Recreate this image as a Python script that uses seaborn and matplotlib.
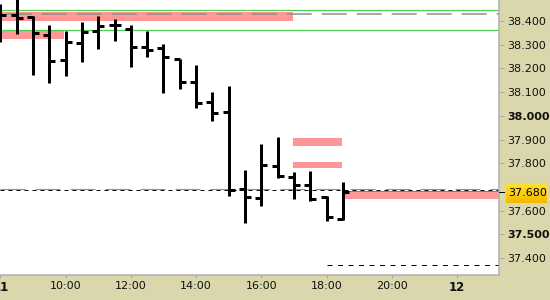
import numpy as np
import pandas as pd
import matplotlib
matplotlib.use("Agg")
import matplotlib.pyplot as plt
import matplotlib.transforms as mtransforms
from matplotlib.patches import Rectangle
import seaborn as sns

# ---------------- data ----------------
times = ["08:00", "08:30", "09:00", "09:30", "10:00", "10:30", "11:00", "11:30",
         "12:00", "12:30", "13:00", "13:30", "14:00", "14:30", "15:00", "15:30",
         "16:00", "16:30", "17:00", "17:30", "18:00", "18:30"]
opens = [38.430, 38.424, 38.416, 38.340, 38.237, 38.306, 38.358, 38.382, 38.365, 38.290, 38.286,
         38.238, 38.143, 38.059, 38.015, 37.690, 37.654, 37.789, 37.743, 37.707, 37.657, 37.563]
highs = [38.472, 38.520, 38.420, 38.383, 38.359, 38.395, 38.421, 38.408, 38.383, 38.358, 38.303,
         38.238, 38.214, 38.102, 38.126, 37.771, 37.881, 37.909, 37.763, 37.768, 37.662, 37.721]
lows = [38.313, 38.346, 38.173, 38.137, 38.169, 38.228, 38.281, 38.317, 38.207, 38.249, 38.095,
        38.112, 38.032, 37.978, 37.663, 37.546, 37.621, 37.736, 37.648, 37.641, 37.555, 37.562]
closes = [38.427, 38.411, 38.349, 38.231, 38.310, 38.352, 38.378, 38.382, 38.290, 38.279, 38.249,
          38.143, 38.055, 38.011, 37.687, 37.656, 37.792, 37.746, 37.706, 37.650, 37.572, 37.680]

# x axis tick labels
xtick_times = ["08:00", "10:00", "12:00", "14:00", "16:00", "18:00", "20:00", "22:00"]
xtick_labels = ["11", "10:00", "12:00", "14:00", "16:00", "18:00", "20:00", "12"]
xtick_bold = ["11", "12"]

# y axis tick labels
ytick_values = [37.4, 37.5, 37.6, 37.8, 37.9, 38.0, 38.1, 38.2, 38.3, 38.4]
ytick_bold = [37.5, 38.0]
last_price = 37.680

# horizontal levels
green_levels = [38.445, 38.361]
grey_dashed_level = 38.428
black_dashed_level = 37.686
blue_dashed_level = 37.690
low_dashed_level = 37.370
low_dashed_start = "18:00"
green_short_level = 37.683
green_short_start = "18:33"

# pink zones
zone_start = ["07:50", "07:50", "16:58", "16:58", "18:33"]
zone_end = ["16:58", "09:56", "18:28", "18:28", "23:59"]
zone_low = [38.401, 38.323, 37.874, 37.781, 37.648]
zone_high = [38.439, 38.358, 37.906, 37.806, 37.680]


def hrs(s):
    h, m = s.split(":")
    return int(h) + int(m) / 60.0


# ---------------- style ----------------
sns.set_style("white")
plt.rcParams["font.family"] = ["DejaVu Sans"]
plt.rcParams["lines.scale_dashes"] = False

PX = 0.72  # points per pixel at dpi 100
BAND = "#d9d7ab"
PINK = "#ff9797"
GREEN = "#4ccf4c"

fig = plt.figure(figsize=(5.5, 3.0), dpi=100, facecolor=BAND)
ax = fig.add_axes([0, 25 / 300, 499 / 550, 275 / 300])
ax.set_facecolor("white")

px_per_h = 32.6
xmin = 8.0 - 0.5 / px_per_h
xmax = xmin + 499 / px_per_h
ymax = 38.4 + 21 / 237
ymin = 38.4 - 254 / 237

# pink zones
for s, e, lo, hi in zip(zone_start, zone_end, zone_low, zone_high):
    ax.add_patch(Rectangle((hrs(s), lo), hrs(e) - hrs(s), hi - lo,
                           facecolor=PINK, edgecolor="none", zorder=1))

# horizontal lines
for lv in green_levels:
    ax.axhline(lv, color=GREEN, lw=1.2 * PX, zorder=2)
ax.axhline(grey_dashed_level, color="#8c8c8c", lw=1.5 * PX, zorder=2,
           linestyle=(20.4, (18, 7.2)))
ax.axhline(black_dashed_level, color="black", lw=1 * PX, zorder=2,
           linestyle=(0, (4 * PX, 4 * PX)))
ax.axhline(blue_dashed_level, color="#6a94e0", lw=1.1 * PX, zorder=2.1,
           linestyle=(0, (18, 7.2)))
ax.plot([hrs(green_short_start), xmax], [green_short_level] * 2, color="#3cae3c",
        lw=1 * PX, zorder=2.2)
ax.plot([hrs(low_dashed_start), xmax], [low_dashed_level] * 2, color="black",
        lw=1 * PX, linestyle=(0, (5 * PX, 5.5 * PX)), zorder=2)

# OHLC bars: high-low ranges via seaborn
t = np.array([hrs(s) for s in times])
df = pd.DataFrame({
    "t": np.concatenate([t, t]),
    "price": np.concatenate([highs, lows]),
    "bar": np.concatenate([np.arange(len(t)), np.arange(len(t))]),
})
sns.lineplot(data=df, x="t", y="price", units="bar", estimator=None, sort=False,
             color="black", lw=3 * PX, ax=ax, legend=False, zorder=5,
             solid_capstyle="butt")
w = 6 / px_per_h
ax.hlines(opens, t - w, t, color="black", lw=3 * PX, zorder=5)
ax.hlines(closes, t, t + w, color="black", lw=3 * PX, zorder=5)

ax.set_xlabel("")
ax.set_ylabel("")
ax.set_xlim(xmin, xmax)
ax.set_ylim(ymin, ymax)

# spines
for sp in ["top", "left"]:
    ax.spines[sp].set_visible(False)
for sp in ["right", "bottom"]:
    ax.spines[sp].set_visible(True)
    ax.spines[sp].set_color("#b0b0b0")
    ax.spines[sp].set_linewidth(1.5 * PX)

# y axis on right
ax.yaxis.tick_right()
ax.set_yticks(ytick_values)
ax.set_yticklabels([f"{v:.3f}" for v in ytick_values])
ax.tick_params(axis="y", direction="out", length=5 * PX, width=1 * PX, color="#a8a8a8",
               pad=3 * PX, labelsize=8, labelcolor="#111111", left=False, right=True)
for lab, v in zip(ax.get_yticklabels(), ytick_values):
    if any(abs(v - b) < 1e-6 for b in ytick_bold):
        lab.set_fontweight("bold")

# partially visible top label
trans_y = mtransforms.blended_transform_factory(ax.transAxes, ax.transData)
ax.text(1.0 + 9 / 499, 38.5, "38.500", transform=trans_y, fontsize=8, color="#111111",
        ha="left", va="center", clip_on=False)

# x axis
ax.set_xticks([hrs(s) for s in xtick_times])
ax.set_xticklabels(xtick_labels)
ax.tick_params(axis="x", direction="out", length=3 * PX, width=1 * PX, color="#a8a8a8",
               pad=2.5, labelsize=8, labelcolor="#111111", bottom=True)
for lab in ax.get_xticklabels():
    if lab.get_text() in xtick_bold:
        lab.set_fontweight("bold")
        lab.set_fontsize(8.5)

# black tick at last price
ax.plot([1.0, 1.0 + 6 / 499], [last_price] * 2, transform=trans_y, color="black",
        lw=1 * PX, clip_on=False, zorder=6)

# gold last price box with gradient
bx0, bx1, by0, by1 = 505, 547, 183, 203
gax = fig.add_axes([bx0 / 550, (300 - by1) / 300, (bx1 - bx0) / 550, (by1 - by0) / 300])
top = np.array([255, 228, 40]) / 255
bot = np.array([244, 184, 0]) / 255
f = np.linspace(0, 1, 20)[:, None, None]
img = top * (1 - f) + bot * f
img = np.repeat(img, 2, axis=1)
gax.imshow(img, aspect="auto", extent=[0, 1, 0, 1])
gax.add_patch(Rectangle((0, 0), 1, 1, transform=gax.transAxes, fill=False,
                        edgecolor="#f2d36a", lw=1 * PX))
gax.axis("off")
fig.text(508 / 550, (300 - 193.5) / 300, f"{last_price:.3f}", fontsize=8,
         color="black", ha="left", va="center")

fig.savefig("out.png", dpi=100, facecolor=fig.get_facecolor())
